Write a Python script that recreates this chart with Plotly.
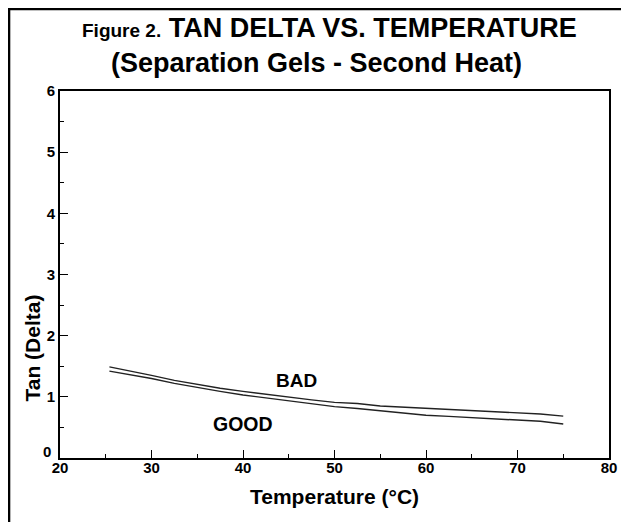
import plotly.graph_objects as go

# Data
temperature = [25.4, 27.5, 30, 32.5, 35, 37.5, 40, 42.5, 45, 47.5, 50, 52.5, 55, 57.5, 60, 62.5, 65, 67.5, 70, 72.5, 75]
tan_bad = [1.49, 1.43, 1.35, 1.27, 1.20, 1.14, 1.09, 1.04, 0.99, 0.95, 0.91, 0.89, 0.85, 0.83, 0.81, 0.80, 0.78, 0.76, 0.735, 0.72, 0.685]
tan_good = [1.42, 1.37, 1.30, 1.22, 1.15, 1.09, 1.03, 0.98, 0.93, 0.88, 0.84, 0.81, 0.77, 0.74, 0.70, 0.68, 0.66, 0.64, 0.62, 0.60, 0.555]

x_ticks = [20, 30, 40, 50, 60, 70, 80]
y_ticks = [0, 1, 2, 3, 4, 5, 6]

OFF = 8  # page body margin
W, H = 629 - OFF, 522 - OFF
L, R, T, B = 60 - OFF, 20, 91 - OFF, 64
pw, ph = W - L - R, H - T - B

def px(x):
    return (x - OFF - L) / pw

def py(y):
    return (H - B - (y - OFF)) / ph

FONT = "Liberation Sans, Arial, sans-serif"
TICKFONT = dict(family=FONT, size=15, color="black", weight="bold")

fig = go.Figure()
fig.add_trace(go.Scatter(x=temperature, y=tan_bad, mode="lines",
                         line=dict(color="#222222", width=1.4), name="BAD", showlegend=False))
fig.add_trace(go.Scatter(x=temperature, y=tan_good, mode="lines",
                         line=dict(color="#222222", width=1.4), name="GOOD", showlegend=False))

axis_common = dict(
    showgrid=False, zeroline=False, showline=True, linecolor="black", linewidth=1.6,
    mirror=True, ticks="inside", tickcolor="black", tickwidth=1.4, ticklen=8,
    tickfont=TICKFONT,
)

# the "0" label on the y axis sits slightly raised in the reference; drawn as annotation
y_ticktext = ["" if v == y_ticks[0] else str(v) for v in y_ticks]

fig.update_xaxes(range=[20, 80], tickvals=x_ticks, ticktext=[str(v) for v in x_ticks],
                 minor=dict(ticks="inside", ticklen=4, tickwidth=1.2, tickcolor="black", dtick=5, tick0=0),
                 ticklabelstandoff=-5, **axis_common)
fig.update_yaxes(range=[0, 6], tickvals=y_ticks, ticktext=y_ticktext,
                 minor=dict(ticks="inside", ticklen=4, tickwidth=1.2, tickcolor="black", dtick=0.5, tick0=0),
                 ticklabelstandoff=0, **axis_common)

annotations = [
    dict(x=px(329), y=py(28), xref="paper", yref="paper", showarrow=False,
         text="<span style='font-size:19px'>Figure 2.</span> TAN DELTA VS. TEMPERATURE",
         font=dict(family=FONT, size=27, color="black", weight="bold"), xanchor="center", yanchor="middle"),
    dict(x=px(316), y=py(63), xref="paper", yref="paper", showarrow=False,
         text="(Separation Gels - Second Heat)",
         font=dict(family=FONT, size=27, color="black", weight="bold"), xanchor="center", yanchor="middle"),
    dict(x=px(334), y=py(497), xref="paper", yref="paper", showarrow=False,
         text="Temperature (°C)",
         font=dict(family=FONT, size=21, color="black", weight="bold"), xanchor="center", yanchor="middle"),
    dict(x=px(31.5), y=py(348), xref="paper", yref="paper", showarrow=False, textangle=-90,
         text="Tan (Delta)",
         font=dict(family=FONT, size=21, color="black", weight="bold"), xanchor="center", yanchor="middle"),
    dict(x=px(53), y=py(451), xref="paper", yref="paper", showarrow=False, text=str(y_ticks[0]),
         font=TICKFONT, xanchor="right", yanchor="middle", xshift=0),
    dict(x=45.9, y=1.26, xref="x", yref="y", showarrow=False, text="BAD",
         font=dict(family=FONT, size=19, color="black", weight="bold"), xanchor="center", yanchor="middle"),
    dict(x=40.0, y=0.55, xref="x", yref="y", showarrow=False, text="GOOD",
         font=dict(family=FONT, size=19.5, color="black", weight="bold"), xanchor="center", yanchor="middle"),
]

shapes = [
    dict(type="rect", xref="paper", yref="paper", x0=px(9), y0=py(9), x1=px(645), y1=py(545),
         line=dict(color="black", width=2.6), fillcolor="rgba(0,0,0,0)", layer="above"),
]

fig.update_layout(
    width=W, height=H, margin=dict(l=L, r=R, t=T, b=B, autoexpand=False),
    paper_bgcolor="white", plot_bgcolor="white",
    annotations=annotations, shapes=shapes, showlegend=False,
)

fig.write_html("out.html")
